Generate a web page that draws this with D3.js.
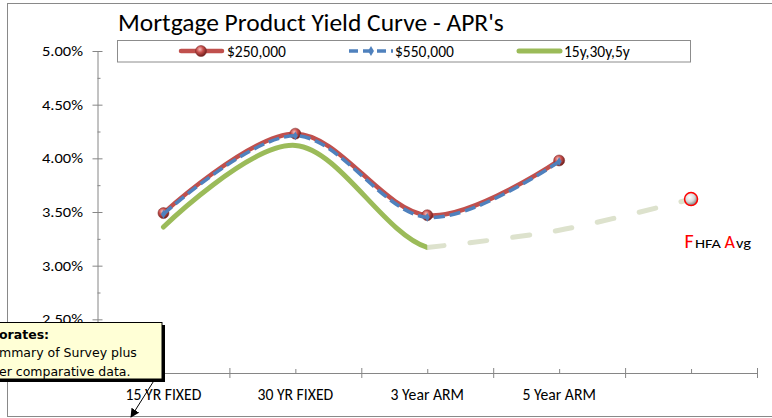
<!DOCTYPE html>
<html>
<head>
<meta charset="utf-8">
<script src="https://cdn.jsdelivr.net/npm/d3@7"></script>
<style>
  body { margin: 0; background: #fff; }
  text { font-family: Carlito, Lato, sans-serif; }
</style>
</head>
<body>
<div id="chart"></div>
<script>
// values (APR, percent)
var categories = ["15 YR FIXED", "30 YR FIXED", "3 Year ARM", "5 Year ARM", ""];
var apr250 = [3.49, 4.23, 3.47, 3.98, null];
var apr550 = [3.48, 4.21, 3.45, 3.97, null];
var aprMix = [3.36, 4.12, 3.17, null, null];
var fhfaTrend = [null, null, 3.17, 3.33, 3.62];
var yTicks = [2.0, 2.5, 3.0, 3.5, 4.0, 4.5, 5.0];
var legendLabels = ["$250,000", "$550,000", "15y,30y,5y"];
var noteLines = ["orates:", "mmary of Survey plus", "er comparative data."];

var width = 772, height = 418;
var svg;

var x = d3.scaleLinear().domain([0, categories.length]).range([97.5, 757]);
var y = d3.scaleLinear().domain([2, 5]).range([373, 51]);

function cx(i) { return x(i + 0.5); }

var smooth = d3.line()
    .defined(function (d) { return d != null; })
    .x(function (d, i) { return cx(i); })
    .y(function (d) { return y(d); })
    .curve(d3.curveCardinal.tension(0));

function fitText(sel, target) {
  var w = sel.node().getComputedTextLength();
  var fs = parseFloat(sel.attr('font-size'));
  sel.attr('font-size', fs * target / w);
}

function print(txt, px, py, size, color, anchor) {
  return svg.append('text')
      .attr('x', px).attr('y', py)
      .attr('font-size', size)
      .attr('fill', color || '#000')
      .attr('text-anchor', anchor || 'start')
      .text(txt);
}

// the picture's small labels are a little wider than Carlito
function stretch(sel, w) {
  return sel.attr('textLength', w).attr('lengthAdjust', 'spacingAndGlyphs');
}

function defs() {
  var d = svg.append('defs');
  var g = d.append('radialGradient').attr('id', 'redBall')
      .attr('cx', '40%').attr('cy', '35%').attr('r', '65%');
  g.append('stop').attr('offset', '0%').attr('stop-color', '#f4c0be');
  g.append('stop').attr('offset', '45%').attr('stop-color', '#c9504d');
  g.append('stop').attr('offset', '100%').attr('stop-color', '#6e1f1d');
  var w = d.append('radialGradient').attr('id', 'whiteBall')
      .attr('cx', '40%').attr('cy', '35%').attr('r', '65%');
  w.append('stop').attr('offset', '0%').attr('stop-color', '#ffffff');
  w.append('stop').attr('offset', '55%').attr('stop-color', '#d9d9d9');
  w.append('stop').attr('offset', '100%').attr('stop-color', '#7f7f7f');
  d.append('marker').attr('id', 'arrow')
      .attr('viewBox', '0 0 10 10').attr('refX', 9).attr('refY', 5)
      .attr('markerWidth', 9).attr('markerHeight', 9).attr('orient', 'auto')
      .attr('markerUnits', 'userSpaceOnUse')
    .append('path').attr('d', 'M0,0 L10,5 L0,10 Z').attr('fill', '#000');
  // solid part of the third series stops at 3 Year ARM
  d.append('clipPath').attr('id', 'leftPart')
    .append('rect').attr('x', 0).attr('y', 0).attr('width', cx(2)).attr('height', height);
}

function ball(px, py, r, fill, stroke, sw) {
  svg.append('circle')
      .attr('cx', px).attr('cy', py).attr('r', r)
      .attr('fill', fill).attr('stroke', stroke).attr('stroke-width', sw);
}

function diamond(px, py, s, color) {
  svg.append('path')
      .attr('d', d3.symbol().type(d3.symbolDiamond).size(s)())
      .attr('transform', 'translate(' + px + ',' + py + ')')
      .attr('fill', color);
}

function series(values, color, w, dash, cap) {
  return svg.append('path')
      .datum(values)
      .attr('d', smooth)
      .attr('fill', 'none')
      .attr('stroke', color)
      .attr('stroke-width', w)
      .attr('stroke-linecap', cap || 'round')
      .attr('stroke-dasharray', dash || null);
}

function axes() {
  var ya = svg.append('g').attr('transform', 'translate(97.5,0)')
      .call(d3.axisLeft(y).tickValues(yTicks).tickSizeOuter(0).tickFormat(''));
  ya.select('.domain').attr('stroke', '#868686');
  ya.selectAll('.tick line').attr('stroke', '#868686').attr('x1', -5).attr('x2', 5);

  // 2.00% sits under the note box, so only the others are written
  svg.selectAll('.yLabel').data(yTicks.slice(1)).enter().append('text')
      .attr('class', 'yLabel')
      .attr('x', 42)
      .attr('y', function (d) { return y(d) + 5; })
      .attr('font-size', 14.5)
      .attr('textLength', 41)
      .attr('lengthAdjust', 'spacingAndGlyphs')
      .text(function (d) { return d.toFixed(2) + '%'; });

  var minor = yTicks.slice(1).map(function (d) { return d - 0.25; });
  var ym = svg.append('g').attr('transform', 'translate(97.5,0)')
      .call(d3.axisRight(y).tickValues(minor).tickSize(3).tickFormat(''));
  ym.select('.domain').remove();
  ym.selectAll('.tick line').attr('stroke', '#868686');

  var idx = d3.range(categories.length + 1);
  var xa = svg.append('g').attr('transform', 'translate(0,373)')
      .call(d3.axisBottom(x).tickValues(idx.slice(1)).tickSizeOuter(0).tickFormat(''));
  xa.select('.domain').attr('stroke', '#868686');
  xa.selectAll('.tick line').attr('stroke', '#868686').attr('y1', -5).attr('y2', 5);

  var xm = svg.append('g').attr('transform', 'translate(0,373)')
      .call(d3.axisTop(x).tickValues(d3.range(categories.length).map(function (i) { return i + 0.5; }))
        .tickSize(4).tickFormat(''));
  xm.select('.domain').remove();
  xm.selectAll('.tick line').attr('stroke', '#868686');

  svg.selectAll('.catLabel').data(categories).enter().append('text')
      .attr('class', 'catLabel')
      .attr('x', function (d, i) { return cx(i); })
      .attr('y', 399.5)
      .attr('text-anchor', 'middle')
      .attr('font-size', 15.7)
      .text(function (d) { return d; });
}

function legend() {
  svg.append('rect').attr('x', 117.5).attr('y', 40.5).attr('width', 573).attr('height', 21.5)
      .attr('fill', '#fff').attr('stroke', '#8c8c8c');
  var ly = 51;
  svg.append('line').attr('x1', 181).attr('x2', 222).attr('y1', ly).attr('y2', ly)
      .attr('stroke', '#c0504d').attr('stroke-width', 4.5).attr('stroke-linecap', 'round');
  ball(201, ly, 5.5, 'url(#redBall)', '#7a2725', 0.5);
  svg.append('line').attr('x1', 349).attr('x2', 393).attr('y1', ly).attr('y2', ly)
      .attr('stroke', '#4f81bd').attr('stroke-width', 3.5).attr('stroke-dasharray', '9,5');
  diamond(371, ly, 30, '#4f81bd');
  svg.append('line').attr('x1', 519).attr('x2', 560).attr('y1', ly).attr('y2', ly)
      .attr('stroke', '#9bbb59').attr('stroke-width', 5).attr('stroke-linecap', 'round');
  var lx = [227, 395, 564];
  legendLabels.forEach(function (t, i) { print(t, lx[i], ly + 5.5, 15.5); });
}

function note() {
  svg.append('rect').attr('x', -5).attr('y', 325).attr('width', 170).attr('height', 57)
      .attr('fill', '#000');
  svg.append('rect').attr('x', -5).attr('y', 322.5).attr('width', 167).attr('height', 56.5)
      .attr('fill', '#ffffd6').attr('stroke', '#000').attr('stroke-width', 1);
  noteLines.forEach(function (t, i) {
    print(t, -1, 338.5 + i * 18.5, 12.5)
        .style('font-family', 'Tahoma, "DejaVu Sans", sans-serif')
        .attr('font-weight', i == 0 ? 'bold' : 'normal');
  });
  svg.append('line').attr('x1', 155).attr('y1', 379).attr('x2', 131).attr('y2', 417)
      .attr('stroke', '#000').attr('stroke-width', 1).attr('marker-end', 'url(#arrow)');
}

function fhfaLabel() {
  print('F', 684.5, 247.5, 20, '#ff0000');
  stretch(print('HFA', 695, 247.5, 12), 26);
  print('A', 724.5, 247.5, 18, '#ff0000');
  stretch(print('vg', 736, 247.5, 14), 15);
}

function init() {
  svg = d3.select(document.getElementById('chart')).append('svg')
      .attr('width', width).attr('height', height);
  defs();
  svg.append('rect').attr('x', 7.5).attr('y', 3.5).attr('width', 800).attr('height', 413)
      .attr('fill', '#fff').attr('stroke', '#898989');

  var title = print("Mortgage Product Yield Curve - APR's", 118, 31, 24);
  fitText(title, 386);

  axes();
  legend();

  // red series, then blue drawn over it, then green
  series(apr250, '#c0504d', 4.5);
  apr250.forEach(function (d, i) { if (d != null) ball(cx(i), y(d), 5.5, 'url(#redBall)', '#7a2725', 0.5); });
  series(apr550, '#4f81bd', 3.5, '11,5', 'butt');
  apr550.forEach(function (d, i) { if (d != null) diamond(cx(i), y(d), 22, '#4f81bd'); });

  // faded FHFA continuation, then the green series smoothed as if it went on
  series(fhfaTrend, '#dde2cd', 5, '17,26');
  var joined = aprMix.map(function (d, i) { return d != null ? d : fhfaTrend[i]; });
  series(joined, '#9bbb59', 5).attr('clip-path', 'url(#leftPart)');
  ball(cx(4), y(fhfaTrend[4]), 6.5, 'url(#whiteBall)', '#ff0000', 1.5);

  fhfaLabel();
  note();
}

init();
</script>
</body>
</html>
